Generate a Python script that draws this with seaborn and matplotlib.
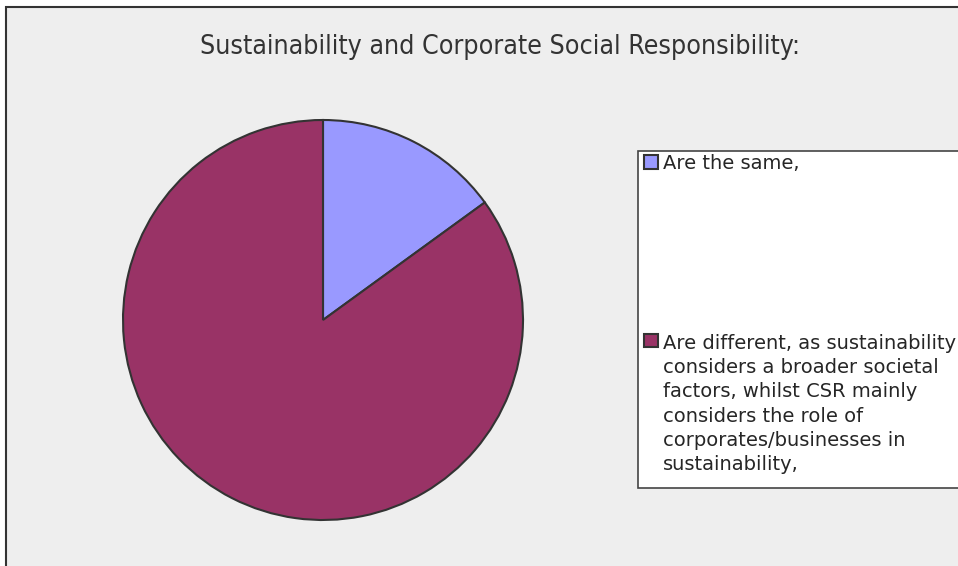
import matplotlib
matplotlib.use("Agg")
import matplotlib.pyplot as plt
import seaborn as sns
from matplotlib.patches import Rectangle
from matplotlib.legend_handler import HandlerPatch

categories = [
    "Are the same,",
    "Are different, as sustainability\nconsiders a broader societal\nfactors, whilst CSR mainly\nconsiders the role of\ncorporates/businesses in\nsustainability,",
]
values = [15, 85]
colors = ["#9999FF", "#993366"]
title = "Sustainability and Corporate Social Responsibility:"

sns.set_theme(style="white")
plt.rcParams['font.family'] = ['DejaVu Sans']

W, H = 958, 566
fig = plt.figure(figsize=(W / 100, H / 100), dpi=100)
fig.patch.set_facecolor("white")

# chart area background
bg = Rectangle((6 / W, -0.01), 1.0, (H - 7) / H + 0.01, transform=fig.transFigure,
               facecolor="#EEEEEE", edgecolor="#333333", linewidth=1.5, zorder=-5)
fig.patches.append(bg)

ax = fig.add_axes([123 / W, (H - 520) / H, 400 / W, 400 / H])
ax.set_zorder(3)
ax.set_facecolor("none")
wedges, _ = ax.pie(values, colors=colors, startangle=90, counterclock=False,
                   wedgeprops=dict(edgecolor="#333333", linewidth=1.5))
ax.set_xlim(-1.0, 1.0)
ax.set_ylim(-1.0, 1.0)
ax.set_aspect("equal")
ax.axis("off")

fig.text(500 / W, 1 - 47 / H, title, ha="center", va="center", fontsize=19.2,
         color="#333333", family="DejaVu Sans", fontstretch="condensed")

# legend box
lb = Rectangle((638 / W, 1 - 488 / H), (W + 5 - 638) / W, (488 - 151) / H,
               transform=fig.transFigure, facecolor="white", edgecolor="#444444",
               linewidth=1.2, zorder=-1)
fig.patches.append(lb)

FS = 14.0
LS = 1.34


class TopHandler(HandlerPatch):
    def __init__(self, shift):
        super().__init__()
        self.shift = shift

    def create_artists(self, legend, orig_handle, xdescent, ydescent, width,
                       height, fontsize, trans):
        p = Rectangle((-xdescent, -ydescent + self.shift), width, height)
        self.update_prop(p, orig_handle, legend)
        p.set_transform(trans)
        return [p]


nlines = categories[1].count("\n") + 1
shift = (nlines - 1) / 2 * LS * FS * 0.986

leg = fig.legend(wedges, categories, loc="upper left",
                 bbox_to_anchor=(640 / W, 1 - 150 / H), frameon=False,
                 fontsize=FS, labelspacing=8.3, handlelength=0.7, handleheight=0.7,
                 handletextpad=0.28, borderpad=0.2, borderaxespad=0,
                 handler_map={wedges[1]: TopHandler(shift)})
for t in leg.get_texts():
    t.set_color("#262626")
    t.set_linespacing(LS)
leg.set_zorder(4)

fig.savefig("out.png", dpi=100)
